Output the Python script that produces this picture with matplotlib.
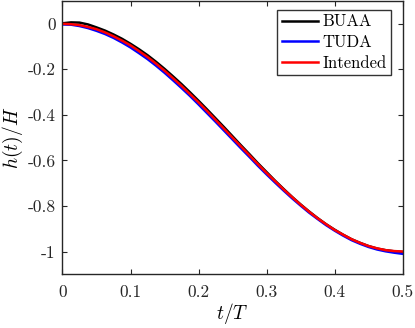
import matplotlib
matplotlib.use("Agg")
import matplotlib.pyplot as plt
import numpy as np

plt.rcParams['mathtext.fontset'] = 'cm'
plt.rcParams['font.family'] = ['cmr10', 'DejaVu Serif']
plt.rcParams['axes.unicode_minus'] = False
plt.rcParams['axes.formatter.use_mathtext'] = True

t = [i * 0.0125 for i in range(41)]

intended = [0.0, -0.002, -0.006, -0.014, -0.024, -0.038, -0.055, -0.074, -0.095, -0.120,
            -0.146, -0.175, -0.206, -0.239, -0.273, -0.309, -0.345, -0.383, -0.422, -0.461,
            -0.500, -0.539, -0.578, -0.617, -0.655, -0.691, -0.727, -0.761, -0.794, -0.825,
            -0.854, -0.880, -0.905, -0.926, -0.946, -0.962, -0.976, -0.986, -0.994, -0.998, -1.000]

buaa = [0.002, 0.006, 0.005, -0.003, -0.016, -0.030, -0.047, -0.066, -0.088, -0.112,
        -0.138, -0.167, -0.198, -0.231, -0.265, -0.301, -0.338, -0.376, -0.415, -0.454,
        -0.494, -0.534, -0.573, -0.613, -0.651, -0.689, -0.725, -0.760, -0.793, -0.824,
        -0.853, -0.880, -0.904, -0.926, -0.946, -0.962, -0.976, -0.987, -0.994, -0.999, -1.002]

tuda = [-0.003, -0.004, -0.010, -0.019, -0.031, -0.045, -0.062, -0.082, -0.104, -0.129,
        -0.155, -0.184, -0.215, -0.248, -0.282, -0.317, -0.354, -0.392, -0.430, -0.469,
        -0.508, -0.547, -0.585, -0.624, -0.661, -0.697, -0.732, -0.766, -0.798, -0.829,
        -0.857, -0.884, -0.908, -0.930, -0.950, -0.966, -0.980, -0.991, -0.999, -1.005, -1.010]

xticks = [0, 0.1, 0.2, 0.3, 0.4, 0.5]
xticklabels = ['0', '0.1', '0.2', '0.3', '0.4', '0.5']
yticks = [0, -0.2, -0.4, -0.6, -0.8, -1]
yticklabels = ['0', '-0.2', '-0.4', '-0.6', '-0.8', '-1']

fig = plt.figure(figsize=(4.15, 3.28), dpi=100)
ax = fig.add_axes([0.1506, 0.1637, 0.8194, 0.8333])

ax.plot(t, buaa, color='black', lw=1.8, label='BUAA')
ax.plot(t, tuda, color='blue', lw=1.8, label='TUDA')
ax.plot(t, intended, color='red', lw=1.8, label='Intended')

ax.set_xlim(0, 0.5)
ax.set_ylim(-1.1, 0.1)
ax.set_xticks(xticks)
ax.set_xticklabels(xticklabels)
ax.set_yticks(yticks)
ax.set_yticklabels(yticklabels)
ax.tick_params(direction='in', top=True, right=True, length=3.5, width=0.8,
               labelsize=12.5, colors='#262626')
ax.tick_params(axis='x', pad=7.5)
ax.tick_params(axis='y', pad=5)
for s in ax.spines.values():
    s.set_color('#262626')
    s.set_linewidth(1.0)

ax.set_xlabel(r'$t/T$', fontsize=14, labelpad=1)
ax.set_ylabel(r'$h(t)/H$', fontsize=14, labelpad=2)

leg = ax.legend(loc='upper right', bbox_to_anchor=(0.9656, 0.967), fontsize=12,
                frameon=True, fancybox=False, edgecolor='black',
                handlelength=2.2, handletextpad=0.25, labelspacing=0.33,
                borderpad=0.25, borderaxespad=0.0)
leg.get_frame().set_linewidth(1.0)

fig.savefig('out.png', dpi=100)
